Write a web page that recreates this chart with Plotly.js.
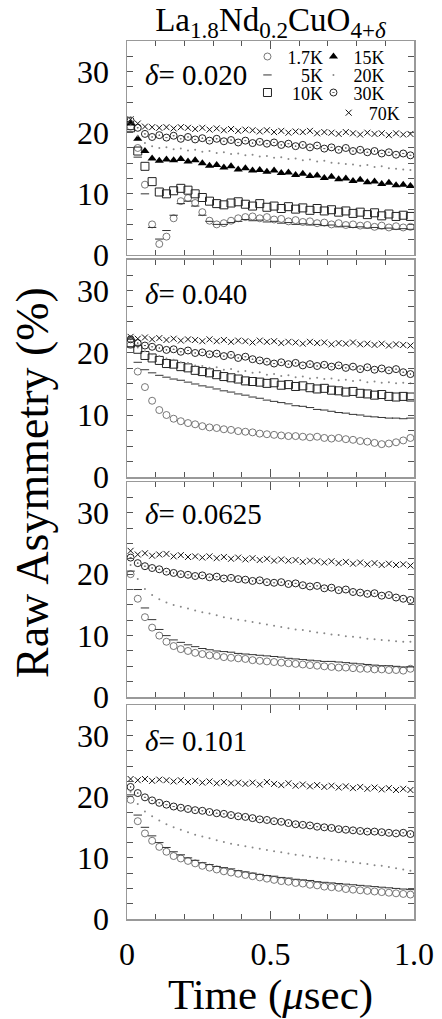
<!DOCTYPE html>
<html><head><meta charset="utf-8">
<script src="https://cdn.plot.ly/plotly-3.0.1.min.js"></script>
<style>html,body{margin:0;padding:0;background:#fff}#chart{width:442px;height:1019px}</style>
</head><body><div id="chart"></div>
<script>
// time (µs)
const t = [0.0125,0.0375,0.0625,0.0875,0.1125,0.1375,0.1625,0.1875,0.2125,0.2375,0.2625,0.2875,0.3125,0.3375,0.3625,0.3875,0.4125,0.4375,0.4625,0.4875,0.5125,0.5375,0.5625,0.5875,0.6125,0.6375,0.6625,0.6875,0.7125,0.7375,0.7625,0.7875,0.8125,0.8375,0.8625,0.8875,0.9125,0.9375,0.9625,0.9875];
const tempLabels = ["1.7K","5K","10K","15K","20K","30K","70K"];
// legend texts, padded so that the left column is right-aligned as in the figure
const legendText = {"1.7K":"1.7K","5K":"\u2007\u20085K","10K":"\u200810K","15K":"15K","20K":"20K","30K":"30K","70K":"70K"};
const panelLabels = ["0.020","0.040","0.0625","0.101"];
const yTickLabels = ["0","10","20","30"];
const xTickLabels = ["0","0.5","1.0"];

// delta = 0.020
const d020_1p7K = [21.0,17.5,11.5,5.0,1.8,3.0,6.0,8.8,9.3,8.5,7.0,5.6,5.0,5.2,5.6,6.0,6.2,6.3,6.0,6.2,5.8,5.9,5.5,5.7,5.4,5.5,5.2,5.3,5.0,5.2,4.9,5.0,4.8,4.9,4.6,4.8,4.5,4.7,4.5,4.6];
const d020_5K   = [20.5,16.0,10.0,4.5,2.6,4.0,6.5,8.4,8.8,8.0,6.5,5.5,5.0,5.0,5.3,5.5,5.8,5.6,5.7,5.4,5.5,5.2,5.3,5.0,5.1,4.9,5.0,4.8,4.9,4.6,4.7,4.5,4.6,4.4,4.5,4.3,4.4,4.2,4.3,4.2];
const d020_10K  = [20.8,17.0,14.5,12.0,10.3,10.0,10.5,10.9,10.6,10.0,9.4,8.8,8.4,8.2,8.5,8.7,8.3,8.0,8.4,7.8,8.0,7.6,7.9,7.5,7.7,7.3,7.6,7.2,7.4,7.0,7.2,6.8,7.0,6.6,6.9,6.4,6.7,6.3,6.5,6.3];
const d020_15K  = [21.5,19.0,17.0,15.8,15.4,15.6,15.5,15.7,15.3,15.5,15.0,14.6,14.7,14.3,14.5,14.0,14.2,13.8,13.9,13.6,13.8,13.4,13.5,13.1,13.3,12.9,13.0,12.6,12.8,12.4,12.5,12.1,12.3,11.9,12.0,11.6,11.8,11.4,11.5,11.3];
const d020_20K  = [21.2,19.5,18.3,17.8,17.5,17.6,17.3,17.4,17.1,17.2,16.9,17.0,16.7,16.8,16.5,16.6,16.3,16.4,16.1,16.2,15.9,16.0,15.7,15.8,15.5,15.6,15.3,15.4,15.1,15.0,14.9,14.8,14.6,14.7,14.4,14.5,14.2,14.1,14.0,13.9];
const d020_30K  = [22.0,20.8,19.8,19.3,19.6,19.2,19.5,19.0,19.3,18.9,19.1,18.7,19.0,18.6,18.8,18.4,18.7,18.3,18.5,18.2,18.4,18.0,18.2,17.8,18.0,17.6,17.9,17.4,17.6,17.2,17.5,17.0,17.2,16.8,17.0,16.6,16.8,16.4,16.6,16.3];
const d020_70K  = [22.2,21.5,21.0,20.9,20.8,20.9,20.7,20.9,20.8,20.6,20.8,20.5,20.7,20.4,20.6,20.3,20.5,20.4,20.2,20.4,20.1,20.3,20.0,20.2,20.1,20.3,19.9,20.1,20.0,19.8,20.1,19.9,19.7,20.0,19.8,19.9,19.6,19.9,19.7,19.8];

// delta = 0.040
const d040_1p7K = [21.3,17.0,14.5,12.3,10.8,10.0,9.4,9.0,8.7,8.5,8.2,8.0,7.9,7.7,7.6,7.4,7.3,7.2,7.0,6.9,6.8,6.7,6.6,6.6,6.5,6.4,6.5,6.3,6.2,6.3,6.1,6.0,5.8,5.7,5.5,5.3,5.4,5.6,5.9,6.3];
const d040_5K   = [21.0,18.5,17.3,16.8,16.4,16.1,15.8,15.6,15.3,15.0,14.7,14.5,14.2,13.9,13.7,13.4,13.2,12.9,12.7,12.4,12.2,12.0,11.8,11.5,11.4,11.2,10.9,10.8,10.6,10.4,10.3,10.1,10.0,9.8,9.7,9.6,9.5,9.5,9.4,9.5];
const d040_10K  = [21.6,20.6,19.6,19.2,18.8,18.3,18.2,17.8,17.6,17.2,17.0,16.8,16.5,16.2,16.0,15.8,15.5,15.4,15.3,15.1,15.2,14.8,14.9,14.6,14.7,14.4,14.2,14.3,14.0,13.9,13.7,13.8,13.5,13.4,13.2,13.3,13.0,12.9,13.0,12.9];
const d040_20K  = [21.8,20.9,20.3,19.8,19.5,19.1,18.9,18.5,18.4,18.0,17.9,17.6,17.7,17.3,17.4,17.0,17.1,16.8,16.9,16.5,16.6,16.3,16.4,16.1,16.2,15.9,16.0,15.8,15.9,15.6,15.7,15.5,15.6,15.3,15.4,15.2,15.3,15.1,15.2,15.1];
const d040_30K  = [22.2,21.6,21.2,21.0,20.8,20.5,20.6,20.2,20.4,20.0,20.1,19.8,19.9,19.5,19.7,19.2,19.4,19.0,18.8,18.6,18.3,18.5,18.2,18.4,18.0,18.2,17.9,18.1,17.8,18.0,17.6,17.8,17.4,17.7,17.3,17.5,17.2,17.4,16.9,16.6];
const d040_70K  = [22.6,22.3,22.5,22.2,22.4,22.1,22.3,22.0,22.2,22.1,21.9,22.2,21.9,22.1,21.8,22.0,21.9,21.7,22.0,21.8,21.9,21.6,21.8,21.7,21.5,21.8,21.6,21.7,21.4,21.6,21.5,21.7,21.4,21.5,21.3,21.5,21.2,21.4,21.3,21.2];

// delta = 0.0625
const d0625_1p7K = [20.0,16.0,13.0,11.3,10.0,9.0,8.3,7.8,7.5,7.2,7.0,6.8,6.7,6.5,6.4,6.3,6.2,6.0,5.9,5.8,5.7,5.6,5.5,5.4,5.3,5.2,5.1,5.0,4.9,4.8,4.8,4.7,4.6,4.6,4.5,4.5,4.4,4.4,4.3,4.6];
const d0625_5K   = [20.5,17.5,14.5,12.6,11.0,10.0,9.3,8.9,8.5,8.2,7.9,7.7,7.5,7.4,7.3,7.1,7.0,6.9,6.8,6.7,6.6,6.5,6.3,6.2,6.1,6.0,5.9,5.8,5.8,5.7,5.6,5.5,5.4,5.3,5.2,5.1,5.1,5.0,4.9,4.9];
const d0625_20K  = [21.5,19.2,17.6,16.6,15.9,15.4,15.0,14.7,14.4,14.1,13.8,13.6,13.3,13.0,12.8,12.6,12.4,12.2,12.0,11.8,11.6,11.4,11.2,11.0,10.9,10.7,10.5,10.4,10.2,10.1,9.9,9.8,9.7,9.5,9.4,9.3,9.2,9.1,9.0,9.0];
const d0625_30K  = [22.7,21.8,21.3,21.0,20.8,20.4,20.2,20.0,19.9,19.7,19.8,19.5,19.6,19.3,19.4,19.2,19.1,18.9,19.0,18.7,18.6,18.7,18.4,18.5,18.2,18.0,18.1,17.7,17.8,17.4,17.5,17.1,17.0,16.8,16.9,16.5,16.6,16.2,16.0,15.8];
const d0625_70K  = [23.8,23.2,23.4,23.0,23.2,23.3,22.9,23.1,22.8,22.9,22.7,22.9,22.6,22.8,22.5,22.7,22.4,22.6,22.3,22.5,22.2,22.4,22.2,22.3,22.0,22.2,22.1,21.9,22.1,21.8,22.0,21.7,21.9,21.6,21.8,21.5,21.7,21.5,21.6,21.4];

// delta = 0.101
const d101_1p7K = [19.5,16.0,14.0,12.8,11.8,11.0,10.3,9.9,9.5,9.1,8.7,8.4,8.1,7.8,7.6,7.4,7.2,7.0,6.8,6.6,6.4,6.2,6.1,5.9,5.8,5.6,5.5,5.3,5.2,5.1,4.9,4.8,4.7,4.6,4.5,4.4,4.3,4.2,4.1,4.0];
const d101_5K   = [20.3,17.0,15.0,13.6,12.5,11.7,11.0,10.5,10.0,9.6,9.2,8.9,8.6,8.4,8.2,7.9,7.7,7.5,7.3,7.1,7.0,6.8,6.7,6.5,6.4,6.3,6.1,6.0,5.9,5.8,5.7,5.6,5.5,5.4,5.3,5.2,5.1,5.0,4.9,4.8];
const d101_20K  = [20.8,18.8,17.6,16.8,16.1,15.5,15.0,14.6,14.2,13.8,13.5,13.2,12.9,12.6,12.3,12.1,11.9,11.7,11.5,11.3,11.1,10.9,10.7,10.5,10.4,10.2,10.0,9.9,9.7,9.6,9.4,9.3,9.1,9.0,8.8,8.7,8.5,8.3,8.1,7.9];
const d101_30K  = [21.6,20.6,19.9,19.4,19.0,18.7,18.4,18.2,18.0,17.8,17.7,17.5,17.3,17.2,17.0,16.8,16.7,16.5,16.3,16.2,16.0,15.9,15.7,15.5,15.4,15.3,15.1,15.0,14.9,14.7,14.6,14.5,14.4,14.3,14.3,14.2,14.1,14.0,14.1,13.9];
const d101_70K  = [22.9,22.7,22.9,22.6,22.8,22.7,22.5,22.7,22.4,22.6,22.3,22.5,22.2,22.4,22.2,22.3,22.1,22.3,22.0,22.4,22.1,21.9,22.2,21.8,22.0,21.7,21.9,21.6,21.8,21.5,21.7,21.4,21.6,21.3,21.5,21.2,21.4,21.1,21.3,21.1];

const FONT = "Liberation Serif";

const styles = {
  "1.7K": {symbol:"circle-open", size:7, color:"#555", lw:0.8},
  "5K":   {symbol:"line-ew-open", size:6, color:"#333", lw:1},
  "10K":  {symbol:"square-open", size:8, color:"#222", lw:1},
  "15K":  {symbol:"triangle-up", size:8, color:"#000", lw:0},
  "20K":  {symbol:"circle", size:2, color:"#888", lw:0},
  "30K":  {symbol:"circle-open-dot", size:7, color:"#222", lw:1},
  "70K":  {symbol:"x-thin-open", size:6, color:"#111", lw:1}
};
const legendOf = {"1.7K":"legend","15K":"legend","5K":"legend2","20K":"legend2","10K":"legend3","30K":"legend3","70K":"legend4"};

const panels = [
  {label: panelLabels[0], series: {"1.7K":d020_1p7K,"5K":d020_5K,"10K":d020_10K,"15K":d020_15K,"20K":d020_20K,"30K":d020_30K,"70K":d020_70K}},
  {label: panelLabels[1], series: {"1.7K":d040_1p7K,"5K":d040_5K,"10K":d040_10K,"20K":d040_20K,"30K":d040_30K,"70K":d040_70K}},
  {label: panelLabels[2], series: {"1.7K":d0625_1p7K,"5K":d0625_5K,"20K":d0625_20K,"30K":d0625_30K,"70K":d0625_70K}},
  {label: panelLabels[3], series: {"1.7K":d101_1p7K,"5K":d101_5K,"20K":d101_20K,"30K":d101_30K,"70K":d101_70K}}
];

const data = [];
panels.forEach((p, i) => {
  const ax = i === 0 ? "" : String(i + 1);
  tempLabels.forEach(name => {
    const y = p.series[name];
    if (!y) return;
    const s = styles[name];
    data.push({
      type: "scatter", mode: "markers", x: t, y: y, name: legendText[name],
      xaxis: "x" + ax, yaxis: "y" + ax,
      showlegend: i === 0, legend: legendOf[name],
      marker: {symbol: s.symbol, size: s.size, color: s.color, line: {color: s.color, width: s.lw}},
      hoverinfo: "skip"
    });
  });
});

const domains = [[0.7563, 1], [0.5034, 0.7506], [0.2528, 0.4977], [0, 0.2437]];
const layout = {
  width: 442, height: 1019,
  margin: {l: 127, r: 28, t: 41, b: 100, pad: 0},
  paper_bgcolor: "#fff", plot_bgcolor: "#fff",
  font: {family: FONT, color: "#000"},
  title: {text: "La<sub>1.8</sub>Nd<sub>0.2</sub>CuO<sub>4+<i>δ</i></sub>", x: 0.5, xref: "paper", xanchor: "center",
          y: 0.981, yref: "container", yanchor: "middle", font: {family: FONT, size: 33, color: "#000"}},
  showlegend: true,
  annotations: [],
};
const legBase = {orientation: "h", xanchor: "left", yanchor: "middle", bgcolor: "rgba(0,0,0,0)",
  font: {family: FONT, size: 18, color: "#000"}, entrywidth: 36, entrywidthmode: "pixels",
  itemwidth: 30, indentation: -15, tracegroupgap: 0, borderwidth: 0};
layout.legend  = Object.assign({}, legBase, {x: 0.472, y: 0.982});
layout.legend2 = Object.assign({}, legBase, {x: 0.472, y: 0.961});
layout.legend3 = Object.assign({}, legBase, {x: 0.472, y: 0.941});
layout.legend4 = Object.assign({}, legBase, {x: 0.755, y: 0.918});

const deltaY = [0.84, 0.845, 0.85, 0.83];
domains.forEach((d, i) => {
  const ax = i === 0 ? "" : String(i + 1);
  const xa = {
    anchor: "y" + ax, domain: [0, 1], range: [0, 1],
    tickvals: [0, 0.5, 1], ticktext: xTickLabels, showticklabels: i === 3,
    ticks: "inside", ticklen: 8, tickwidth: 1, tickcolor: "#555",
    minor: {dtick: 0.1, tick0: 0, ticks: "inside", ticklen: 5, tickwidth: 1, tickcolor: "#555"},
    showline: true, linecolor: "#999", linewidth: 1.5, mirror: "allticks",
    showgrid: false, zeroline: false,
    tickfont: {family: FONT, size: 32, color: "#000"}, ticklabelstandoff: 6
  };
  if (i === 3) xa.title = {text: "Time (<i>μ</i>sec)", font: {family: FONT, size: 43, color: "#000"}, standoff: 2};
  layout["xaxis" + ax] = xa;
  layout["yaxis" + ax] = {
    anchor: "x" + ax, domain: d, range: [0, 35],
    tickvals: [0, 10, 20, 30], ticktext: yTickLabels,
    ticks: "inside", ticklen: 6, tickwidth: 1, tickcolor: "#555",
    minor: {dtick: 2.5, tick0: 0, ticks: "inside", ticklen: 6, tickwidth: 1, tickcolor: "#555"},
    showline: true, linecolor: "#999", linewidth: 1.5, mirror: "allticks",
    showgrid: false, zeroline: false,
    tickfont: {family: FONT, size: 32, color: "#000"}, ticklabelstandoff: 10
  };
  layout.annotations.push({
    text: "<i>δ</i>= " + panels[i].label, xref: "x" + ax + " domain", yref: "y" + ax + " domain",
    x: 0.055, y: deltaY[i], xanchor: "left", yanchor: "middle", showarrow: false,
    font: {family: FONT, size: 29, color: "#000"}
  });
});
layout.annotations.push({
  text: "Raw Asymmetry (%)", textangle: -90, xref: "paper", yref: "paper",
  x: -0.3275, y: 0.4966, xanchor: "center", yanchor: "middle", showarrow: false,
  font: {family: FONT, size: 46, color: "#000"}
});

Plotly.newPlot("chart", data, layout, {displayModeBar: false, staticPlot: true});
</script></body></html>
